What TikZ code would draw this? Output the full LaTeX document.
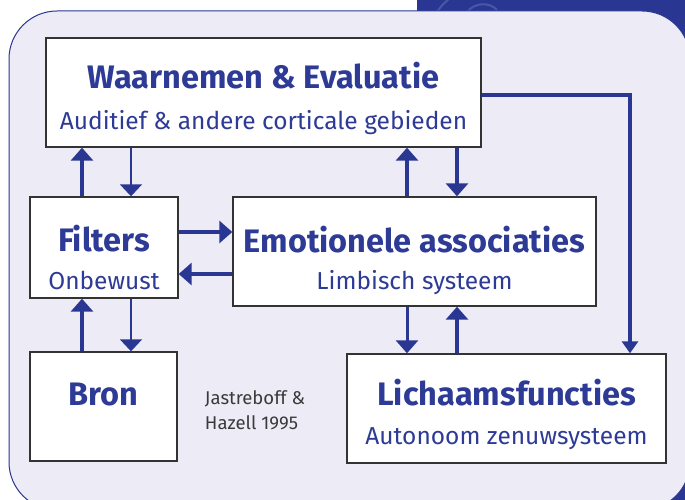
\documentclass[tikz,border=0pt]{standalone}
\usepackage{fontspec}
\setmainfont{Fira Sans}
\usetikzlibrary{arrows.meta}
\definecolor{dkblue}{HTML}{2A3792}
\definecolor{txtblue}{HTML}{2E3B96}
\definecolor{panelbg}{HTML}{EDEBF6}
\definecolor{boxline}{HTML}{333333}
\definecolor{decoblue}{HTML}{4A57A6}
\definecolor{credit}{HTML}{3A3A3A}
\begin{document}
\begin{tikzpicture}[x=1pt,y=-1pt,
  boxstyle/.style={draw=boxline,line width=1.4pt,fill=white,inner sep=0pt},
  titletext/.style={text=txtblue,font=\fontsize{32.5}{36}\selectfont\bfseries,anchor=base,inner sep=0pt},
  subtext/.style={text=txtblue,font=\fontsize{24.5}{28}\selectfont,anchor=base,inner sep=0pt},
  bigarrow/.style={draw=dkblue,line width=4.5pt,-{Triangle[width=22pt,length=13pt]}},
  midarrow/.style={draw=dkblue,line width=3pt,-{Triangle[width=22pt,length=13pt]}},
  thinarrow/.style={draw=dkblue,line width=2pt,-{Triangle[width=22pt,length=12pt]}}]
\useasboundingbox (0,0) rectangle (685,500);
\fill[white] (0,0) rectangle (685,500);
\fill[dkblue] (417,0) rectangle (685,500);
\draw[decoblue,line width=2pt] (437,12) .. controls (442,5) .. (450,-2);
\draw[decoblue,line width=2pt] (467,12) .. controls (475,2) and (490,2) .. (497,10);
\draw[fill=panelbg,draw=dkblue,line width=1pt,rounded corners=48pt] (9,11) rectangle (690,510);

% boxes
\node[boxstyle,minimum width=435pt,minimum height=109pt] (wa) at (263.5,92.5) {};
\node[boxstyle,minimum width=148pt,minimum height=101pt] (fi) at (104,247.5) {};
\node[boxstyle,minimum width=363pt,minimum height=109pt] (em) at (414.5,251.5) {};
\node[boxstyle,minimum width=147pt,minimum height=109pt] (br) at (103.5,406.5) {};
\node[boxstyle,minimum width=319pt,minimum height=109pt] (li) at (506.5,408.5) {};

% texts
\node[titletext] (waT) at (263.5,88.5) {Waarnemen \& Evaluatie};
\node[subtext] (waS) at (263.5,129) {Auditief \& andere corticale gebieden};
\node[titletext] (fiT) at (104,251.5) {Filters};
\node[subtext] (fiS) at (104,289) {Onbewust};
\node[titletext] (emT) at (414.5,252.5) {Emotionele associaties};
\node[subtext] (emS) at (414.5,289) {Limbisch systeem};
\node[titletext] (brT) at (103.5,405.5) {Bron};
\node[titletext] (liT) at (506.5,405.5) {Lichaamsfuncties};
\node[subtext] (liS) at (506.5,444) {Autonoom zenuwsysteem};
\node[text=credit,font=\fontsize{18.5}{25}\selectfont,align=left,anchor=center] (cred) at (255,410) {Jastreboff \&\\Hazell 1995};

% connector guides
\coordinate (cA) at (82,0);
\coordinate (cB) at (131,0);
\coordinate (cC) at (407,0);
\coordinate (cD) at (457,0);
\coordinate (cE) at (0,232);
\coordinate (cF) at (0,274);
\coordinate (cG) at (630,95);

% arrows
\draw[bigarrow] (fi.north -| cA) -- (wa.south -| cA);
\draw[thinarrow] (wa.south -| cB) -- (fi.north -| cB);
\draw[bigarrow] (em.north -| cC) -- (wa.south -| cC);
\draw[bigarrow] (wa.south -| cD) -- (em.north -| cD);
\draw[bigarrow] (fi.east |- cE) -- (em.west |- cE);
\draw[bigarrow] (em.west |- cF) -- (fi.east |- cF);
\draw[bigarrow] (br.north -| cA) -- (fi.south -| cA);
\draw[thinarrow] (fi.south -| cB) -- (br.north -| cB);
\draw[midarrow] (em.south -| cC) -- (li.north -| cC);
\draw[bigarrow] (li.north -| cD) -- (em.south -| cD);
\draw[draw=dkblue,line width=4pt,-{Triangle[width=16pt,length=12pt]}] (wa.east |- cG) -- (cG) -- (li.north -| cG);
\end{tikzpicture}
\end{document}
